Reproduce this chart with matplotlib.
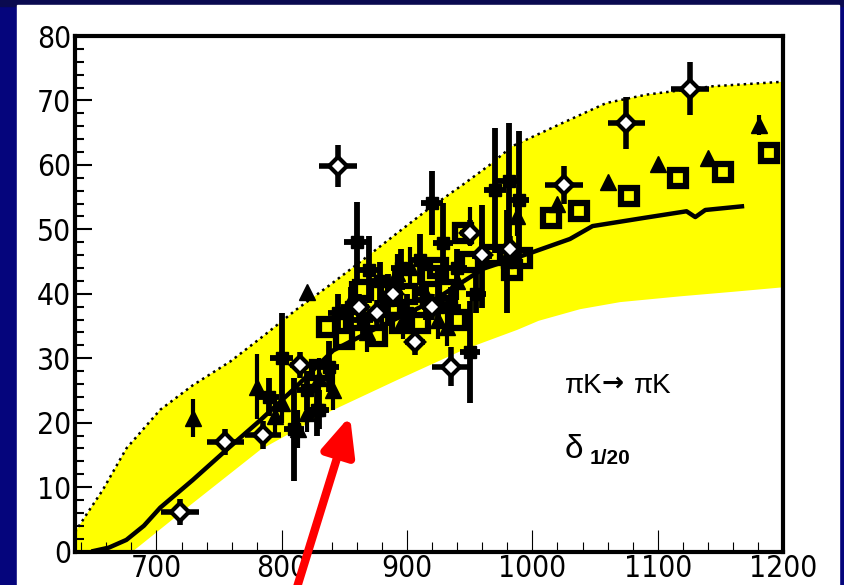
import numpy as np
import matplotlib
matplotlib.use("Agg")
import matplotlib.pyplot as plt
from matplotlib.patches import Rectangle
from matplotlib.ticker import MultipleLocator
from matplotlib import font_manager

# pick a condensed face for the tick labels if one is installed
_faces = [(f.name, f.stretch) for f in font_manager.fontManager.ttflist]
_names = {n for n, _ in _faces}
if 'Liberation Sans Narrow' in _names:
    tick_font = dict(family='Liberation Sans Narrow')
    tick_size = 24
elif ('DejaVu Sans', 'condensed') in _faces or 'DejaVu Sans Condensed' in _names:
    tick_font = dict(family='DejaVu Sans', stretch='condensed')
    tick_size = 21.5
elif 'Roboto Condensed' in _names:
    tick_font = dict(family='Roboto Condensed')
    tick_size = 24
else:
    tick_font = dict(family='Liberation Sans')
    tick_size = 22

plt.rcParams['font.family'] = ['Liberation Sans', 'DejaVu Sans']

# ---- band (upper and lower edges) ----
band_up_x = [635, 645, 657, 676, 703, 729, 759, 785, 812, 838, 865, 892, 918, 945, 966, 984, 1024, 1059, 1091, 1144, 1200]
band_up_y = [3.0, 6.0, 9.5, 16.0, 22.0, 25.8, 29.5, 33.4, 37.6, 41.3, 45.3, 49.4, 53.3, 57.0, 60.0, 62.9, 66.5, 69.6, 70.9, 72.2, 72.9]
band_lo_x = [635, 681, 729, 783, 836, 892, 945, 988, 1005, 1038, 1070, 1118, 1160, 1200]
band_lo_y = [-8.0, 0.0, 7.5, 15.8, 21.5, 26.6, 31.3, 34.4, 35.8, 37.6, 38.7, 39.6, 40.3, 41.0]

# ---- central curve ----
curve_x = [648, 662, 676, 690, 703, 729, 756, 783, 809, 841, 876, 919, 961, 998, 1030, 1048, 1090, 1123, 1130, 1138, 1169]
curve_y = [0.0, 0.6, 1.8, 4.0, 6.8, 11.1, 15.8, 20.4, 25.1, 31.2, 34.7, 38.7, 43.9, 46.3, 48.5, 50.5, 51.8, 52.8, 51.9, 53.0, 53.6]

# ---- open diamonds ----
diam_x = [719, 755, 785, 814.5, 845, 862, 876, 889, 906, 920, 935, 950, 960, 982, 1025, 1075, 1126]
diam_y = [6.1, 17.0, 18.1, 29.0, 59.8, 38.0, 37.0, 40.0, 32.5, 38.0, 28.7, 49.5, 46.0, 47.0, 56.9, 66.5, 71.8]
diam_xerr = [15, 15, 14, 8, 15, 8, 8, 8, 8, 8, 15, 8, 8, 8, 15, 15, 15]
diam_yerr = [2.0, 2.0, 2.2, 2.0, 3.3, 2.0, 2.0, 2.0, 2.0, 2.0, 3.0, 2.0, 2.0, 2.0, 2.9, 4.0, 4.1]

# ---- open squares ----
sq_x = [830.5, 836, 850, 858, 865, 876, 888, 894, 900, 910, 918, 925, 932, 940, 945, 950, 968, 984, 992, 1015, 1037, 1077, 1116, 1152, 1189]
sq_y = [28.2, 34.9, 33.0, 36.0, 40.6, 33.4, 38.0, 35.5, 40.0, 35.5, 42.7, 44.0, 40.6, 36.0, 49.4, 45.0, 46.0, 43.7, 45.6, 51.7, 52.9, 55.1, 58.0, 58.9, 61.8]

# ---- filled triangles ----
tri_x = [729, 780, 795, 800, 813, 820, 820, 830, 841, 855, 868, 880, 892, 897, 902, 912, 925, 932, 940, 950, 980, 988, 1020, 1060, 1100, 1140, 1181]
tri_y = [20.7, 25.6, 21.0, 23.0, 19.0, 21.5, 40.3, 27.0, 25.0, 39.0, 34.0, 38.0, 43.2, 36.0, 44.2, 41.0, 36.0, 34.9, 42.0, 50.4, 45.8, 52.0, 54.0, 57.4, 60.2, 61.0, 66.2]
tri_yerr = [3, 5, 3, 3, 3, 3, 0, 3, 3, 3, 3, 3, 3, 3, 3, 3, 3, 3, 3, 3, 3, 3, 0, 0, 0, 0, 1.5]

# ---- filled crosses ----
cr_x = [790, 800, 810, 820, 828, 830, 838, 845, 855, 860, 865, 870, 878, 885, 890, 895, 900, 910, 915, 920, 925, 929, 935, 940, 950, 955, 960, 970, 981, 980, 989]
cr_y = [24.0, 30.0, 19.0, 25.0, 22.0, 22.0, 28.7, 37.0, 38.0, 48.1, 36.0, 43.7, 42.0, 39.0, 41.0, 44.0, 37.0, 45.3, 39.0, 54.1, 38.0, 47.9, 38.0, 44.0, 31.0, 40.0, 45.8, 56.1, 57.5, 45.0, 54.6]
cr_yerr = [3, 7, 8, 3, 4, 3, 4, 3, 3, 6.2, 3, 5.2, 3, 4, 3, 3, 3, 4, 3, 5, 3, 6.2, 3, 3, 7.9, 3, 8, 9.7, 9, 8, 10.6]
cr_xerr = [8, 9, 8, 8, 8, 8, 8, 8, 8, 10, 8, 8, 8, 8, 8, 8, 8, 8, 8, 9, 8, 8, 8, 8, 8, 8, 8, 9, 9, 8, 8]

x_ticks = [700, 800, 900, 1000, 1100, 1200]
y_ticks = [0, 10, 20, 30, 40, 50, 60, 70, 80]

W, H = 844, 585
fig = plt.figure(figsize=(W / 100, H / 100), dpi=100, facecolor='#05057c')
fig.patches.append(Rectangle((0, 1 - 6 / H), 1, 6 / H, transform=fig.transFigure,
                             color='#0a0a50', zorder=-5))
fig.patches.append(Rectangle((17 / W, 0), (839 - 17) / W, (H - 5) / H,
                             transform=fig.transFigure, color='white', zorder=-4))

ax = fig.add_axes([75 / W, (H - 551.5) / H, (783 - 75) / W, (551.5 - 36) / H])
ax.set_zorder(1)
ax.set_facecolor('white')
ax.set_xlim(635, 1200)
ax.set_ylim(0, 80)

# band
poly_x = np.concatenate([band_up_x, band_lo_x[::-1]])
poly_y = np.concatenate([band_up_y, band_lo_y[::-1]])
ax.fill(poly_x, poly_y, color='#ffff00', lw=0, zorder=1)
ax.plot(band_up_x, band_up_y, color='k', ls=(0, (1, 1.6)), lw=1.8, zorder=2)

# curve
ax.plot(curve_x, curve_y, color='k', lw=3.2, zorder=3, solid_capstyle='butt')

# data
ax.errorbar(cr_x, cr_y, xerr=cr_xerr, yerr=cr_yerr, fmt='s', ms=9, mfc='k', mec='k',
            ecolor='k', elinewidth=4.2, capsize=0, zorder=4)
ax.errorbar(tri_x, tri_y, yerr=tri_yerr, fmt='^', ms=11, mfc='k', mec='k',
            ecolor='k', elinewidth=3, capsize=0, zorder=5)
ax.plot(sq_x, sq_y, 's', ms=12, mfc='none', mec='k', mew=4.5, zorder=6, ls='none')
ax.errorbar(diam_x, diam_y, xerr=diam_xerr, yerr=diam_yerr, fmt='D', ms=9.5, mfc='white',
            mec='k', mew=3, ecolor='k', elinewidth=4, capsize=0, zorder=7)

# ticks
ax.set_xticks(x_ticks)
ax.set_yticks(y_ticks)
ax.set_xticklabels([str(v) for v in x_ticks], fontsize=tick_size, **tick_font)
ax.set_yticklabels([str(v) for v in y_ticks], fontsize=tick_size, **tick_font)
ax.xaxis.set_minor_locator(MultipleLocator(20))
ax.yaxis.set_minor_locator(MultipleLocator(2))
ax.tick_params(axis='y', which='major', direction='in', length=12, width=1.5, pad=3,
               colors='k', left=True, right=False)
ax.tick_params(axis='y', which='minor', direction='in', length=6.5, width=1.5)
ax.tick_params(axis='x', which='major', direction='in', length=16, width=0.8, pad=2,
               colors='k', top=False)
ax.tick_params(axis='x', which='minor', direction='in', length=7, width=0.8)
for s in ax.spines.values():
    s.set_linewidth(3)
    s.set_zorder(10)

# texts
ax.text(1026, 24.6, 'πK', fontsize=20, ha='left', va='baseline', zorder=8)
ax.text(1055, 25.0, '→', fontsize=19, weight='bold', family=['DejaVu Sans'],
        ha='left', va='baseline', zorder=8)
ax.text(1081, 24.6, 'πK', fontsize=20, ha='left', va='baseline', zorder=8)
ax.text(1026, 14.5, 'δ', fontsize=24, ha='left', va='baseline', zorder=8)
ax.text(1046, 13.6, '1/20', fontsize=15, weight='bold', ha='left', va='baseline', zorder=8)

# red arrow
ax.annotate('', xy=(350, H - 416), xycoords='figure pixels',
            xytext=(294, -12), textcoords='figure pixels',
            arrowprops=dict(arrowstyle='-|>,head_length=0.9,head_width=0.4',
                            color='#ff0000', lw=6, mutation_scale=25,
                            shrinkA=0, shrinkB=0),
            annotation_clip=False, zorder=20)

fig.savefig('out.png', dpi=100, facecolor=fig.get_facecolor())
